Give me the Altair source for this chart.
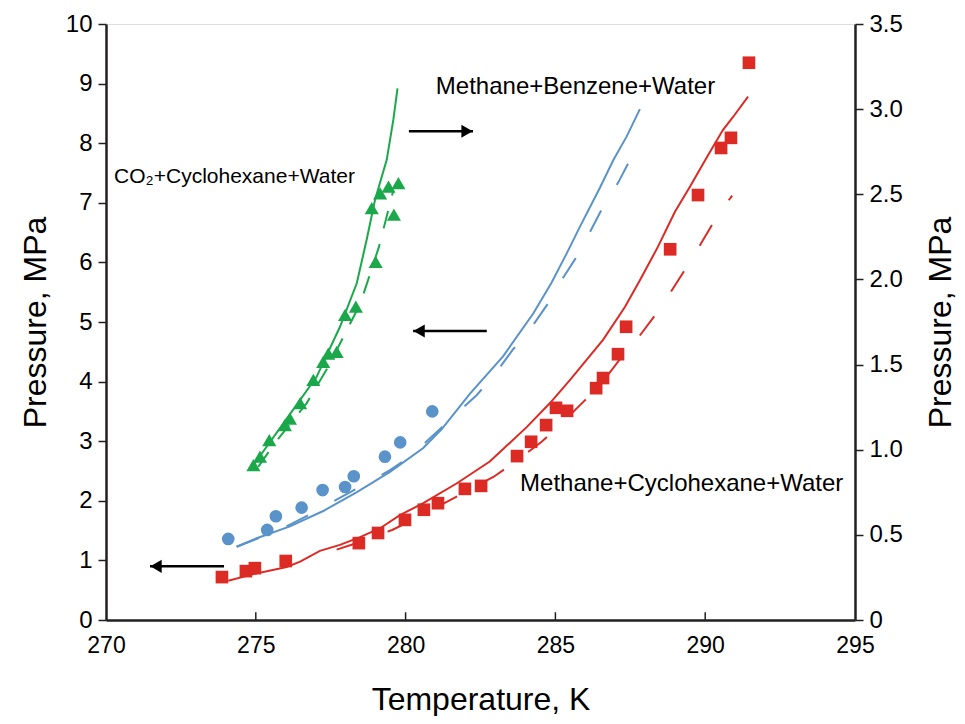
import altair as alt
import pandas as pd

# ---------------- data ----------------
# Methane + Cyclohexane + Water (left axis, MPa)
mc_T = [273.87, 274.67, 274.97, 276.0, 278.44, 279.08, 279.98, 280.61, 281.08, 281.98,
        282.52, 283.72, 284.19, 284.69, 285.02, 285.39, 286.36, 286.59, 287.09, 287.36,
        288.83, 289.76, 290.53, 290.86, 291.46]
mc_P = [0.72, 0.82, 0.87, 0.99, 1.29, 1.46, 1.68, 1.85, 1.96, 2.20,
        2.25, 2.75, 2.99, 3.27, 3.56, 3.51, 3.89, 4.06, 4.46, 4.92,
        6.22, 7.13, 7.92, 8.09, 9.35]
mc_line_T = [274.08, 274.92, 276.03, 276.48, 277.14, 277.81, 278.48, 279.15, 279.81, 280.59,
             281.70, 282.81, 284.05, 284.82, 285.49, 285.82, 286.59, 287.32, 287.82, 288.42,
             288.99, 289.49, 290.06, 290.59, 290.93, 291.43]
mc_line_P = [0.66, 0.77, 0.89, 0.98, 1.16, 1.26, 1.39, 1.54, 1.76, 1.96,
             2.29, 2.66, 3.24, 3.64, 4.03, 4.23, 4.70, 5.25, 5.70, 6.26,
             6.85, 7.27, 7.77, 8.22, 8.44, 8.78]
mc_dash_T = [277.70, 278.30, 279.55, 280.25, 282.93, 283.59, 284.54, 285.09, 285.93, 286.37,
             287.27, 287.71, 288.38, 288.82, 289.43, 289.85, 290.43, 290.90]
mc_dash_P = [1.18, 1.28, 1.51, 1.68, 2.40, 2.63, 2.99, 3.24, 3.66, 3.86,
             4.45, 4.70, 5.15, 5.48, 5.96, 6.31, 6.80, 7.12]

# CO2 + Cyclohexane + Water (left axis, MPa)
co_T = [274.92, 275.14, 275.45, 275.97, 276.14, 276.48, 276.92, 277.25, 277.42, 277.70,
        277.98, 278.34, 279.00, 278.87, 279.15, 279.43, 279.76, 279.61]
co_P = [2.60, 2.74, 3.02, 3.27, 3.38, 3.64, 4.03, 4.33, 4.47, 4.50,
        5.12, 5.26, 6.01, 6.91, 7.16, 7.27, 7.33, 6.80]
co_line_T = [274.81, 275.92, 277.03, 277.81, 278.37, 278.70, 278.98, 279.37, 279.59, 279.73]
co_line_P = [2.52, 3.30, 4.08, 4.92, 5.65, 6.38, 7.05, 7.72, 8.39, 8.92]
co_dash_T = [275.08, 275.64, 276.70, 277.42, 278.49, 279.11, 279.59]
co_dash_P = [2.57, 2.97, 3.64, 4.25, 5.31, 6.26, 7.21]

# Methane + Benzene + Water (right axis, MPa)
mb_T = [274.08, 275.38, 275.67, 276.53, 277.23, 277.98, 278.27, 279.31, 279.82, 280.89]
mb_P = [0.476, 0.529, 0.609, 0.660, 0.763, 0.781, 0.844, 0.959, 1.043, 1.225]
mb_line_T = [274.36, 275.03, 276.14, 277.25, 278.36, 279.48, 280.59, 281.20, 282.15, 283.26,
             284.26, 284.87, 285.37, 285.82, 286.49, 286.93, 287.38, 287.82]
mb_line_P = [0.43, 0.48, 0.55, 0.64, 0.75, 0.87, 1.01, 1.12, 1.33, 1.55,
             1.80, 1.98, 2.15, 2.31, 2.54, 2.70, 2.84, 3.00]
mb_dash_T = [274.36, 275.08, 276.14, 276.81, 279.48, 280.15, 282.37, 282.92, 283.59, 284.09,
             284.76, 285.15, 285.77, 286.10, 286.66, 287.10, 287.60, 287.82]
mb_dash_P = [0.43, 0.48, 0.56, 0.62, 0.88, 0.96, 1.32, 1.43, 1.59, 1.69,
             1.86, 1.98, 2.15, 2.26, 2.45, 2.57, 2.74, 2.80]

# annotations (left-axis coordinates)
label_text = ["CO\u2082+Cyclohexane+Water", "Methane+Benzene+Water", "Methane+Cyclohexane+Water"]
label_T = [270.27, 281.01, 283.82]
label_P = [7.43, 8.94, 2.28]
label_size = [21, 24, 24]

arrow_T1 = [280.11, 282.71, 273.94]
arrow_T2 = [282.25, 280.25, 271.47]
arrow_P = [8.2, 4.85, 0.90]
arrow_dir = ["triangle-right", "triangle-left", "triangle-left"]
arrow_head_T = [282.05, 280.45, 271.67]

x_ticks = [270, 275, 280, 285, 290, 295]
left_ticks = list(range(0, 11))
right_ticks = [0, 0.5, 1.0, 1.5, 2.0, 2.5, 3.0, 3.5]
inner_ticks = [275, 280, 285, 290]

# ---------------- styling ----------------
RED = "#DC2A24"
BLUE = "#5A93C9"
GREEN = "#1BA84A"
AX = "#231F20"
FONT = "Liberation Sans"
W, H = 749, 596

xscale = alt.Scale(domain=[270, 295], nice=False, zero=False)
lscale = alt.Scale(domain=[0, 10], nice=False)
rscale = alt.Scale(domain=[0, 3.5], nice=False)

xaxis = alt.Axis(values=x_ticks, title="Temperature, K", grid=False, tickSize=0,
                 labelPadding=14, labelFontSize=23, titleFontSize=32, titleFontWeight="normal",
                 labelFlush=False,
                 domainColor=AX, domainWidth=2.5, labelColor="black", titleColor="black",
                 titleY=89, titleBaseline="alphabetic", labelFont=FONT, titleFont=FONT)
laxis = alt.Axis(values=left_ticks, title="Pressure, MPa", grid=False, orient="left",
                 tickSize=8, tickColor=AX, tickWidth=1.5, labelPadding=6,
                 labelFontSize=24, titleFontSize=32, titleFontWeight="normal", labelFlush=False,
                 domainColor=AX, domainWidth=2.5, labelColor="black", titleColor="black",
                 titleX=-61, titleY=H / 2, titleAngle=270, titleBaseline="alphabetic",
                 titleAlign="center", labelFont=FONT, titleFont=FONT)
raxis = alt.Axis(values=right_ticks, title="Pressure, MPa", grid=False, orient="right",
                 tickSize=8, tickColor=AX, tickWidth=1.5, labelPadding=6, labelFlush=False,
                 labelExpr="datum.value == 0 ? '0' : format(datum.value, '.1f')",
                 labelFontSize=24, titleFontSize=32, titleFontWeight="normal",
                 domainColor=AX, domainWidth=2.5, labelColor="black", titleColor="black",
                 titleX=95, titleY=H / 2, titleAngle=270, titleBaseline="alphabetic",
                 titleAlign="center", labelFont=FONT, titleFont=FONT)


def X(field="T"):
    return alt.X(f"{field}:Q", scale=xscale, axis=xaxis)


def YL(field="P"):
    return alt.Y(f"{field}:Q", scale=lscale, axis=laxis)


def YR(field="P"):
    return alt.Y(f"{field}:Q", scale=rscale, axis=raxis)


def df(T, P):
    return pd.DataFrame({"T": T, "P": P, "i": list(range(len(T)))})


# ---------------- left-axis layers ----------------
red_line = alt.Chart(df(mc_line_T, mc_line_P)).mark_line(color=RED, strokeWidth=2).encode(
    x=X(), y=YL(), order="i:Q")
red_dash = alt.Chart(df(mc_dash_T, mc_dash_P)).mark_line(
    color=RED, strokeWidth=2, strokeDash=[24, 30]).encode(x=X(), y=YL(), order="i:Q")
red_pts = alt.Chart(df(mc_T, mc_P)).mark_point(
    shape="square", filled=True, color=RED, size=160, opacity=1).encode(x=X(), y=YL())

green_line = alt.Chart(df(co_line_T, co_line_P)).mark_line(color=GREEN, strokeWidth=2).encode(
    x=X(), y=YL(), order="i:Q")
green_dash = alt.Chart(df(co_dash_T, co_dash_P)).mark_line(
    color=GREEN, strokeWidth=2, strokeDash=[18, 16]).encode(x=X(), y=YL(), order="i:Q")
green_pts = alt.Chart(df(co_T, co_P)).mark_point(
    shape="triangle-up", filled=True, color=GREEN, size=200, opacity=1).encode(x=X(), y=YL())

arrows_df = pd.DataFrame({"T": arrow_T1, "T2": arrow_T2, "P": arrow_P,
                          "H": arrow_head_T, "shape": arrow_dir})
arrow_lines = alt.Chart(arrows_df).mark_rule(color="black", strokeWidth=2.5).encode(
    x=X(), x2="T2:Q", y=YL())
arrow_heads = alt.Chart(arrows_df).mark_point(filled=True, color="black", size=170, opacity=1).encode(
    x=X("H"), y=YL(), shape=alt.Shape("shape:N", scale=None, legend=None))

labels_df = pd.DataFrame({"T": label_T, "P": label_P, "text": label_text, "s": label_size})
labels = alt.Chart(labels_df).mark_text(align="left", baseline="middle", font=FONT,
                                        color="black").encode(
    x=X(), y=YL(), text="text:N", size=alt.Size("s:Q", scale=None, legend=None))

ticks_df = pd.DataFrame({"T": inner_ticks, "P": [0] * len(inner_ticks),
                         "P2": [0.13] * len(inner_ticks)})
inner = alt.Chart(ticks_df).mark_rule(color=AX, strokeWidth=1.5).encode(
    x=X(), y=YL(), y2="P2:Q")

left = alt.layer(inner, red_line, red_dash, green_line, green_dash,
                 arrow_lines, arrow_heads, labels, red_pts, green_pts)

# ---------------- right-axis layers ----------------
blue_line = alt.Chart(df(mb_line_T, mb_line_P)).mark_line(color=BLUE, strokeWidth=2).encode(
    x=X(), y=YR(), order="i:Q")
blue_dash = alt.Chart(df(mb_dash_T, mb_dash_P)).mark_line(
    color=BLUE, strokeWidth=2, strokeDash=[24, 30]).encode(x=X(), y=YR(), order="i:Q")
blue_pts = alt.Chart(df(mb_T, mb_P)).mark_point(
    shape="circle", filled=True, color=BLUE, size=160, opacity=1).encode(x=X(), y=YR())

right = alt.layer(blue_line, blue_dash, blue_pts)

chart = alt.layer(left, right).resolve_scale(y="independent").properties(
    width=W, height=H,
    autosize=alt.AutoSizeParams(type="none"),
    padding={"left": 98, "top": 16, "right": 102, "bottom": 96},
).configure_view(stroke=None).configure(background="white")

chart.save("out.html", embed_options={"renderer": "svg", "actions": False})
